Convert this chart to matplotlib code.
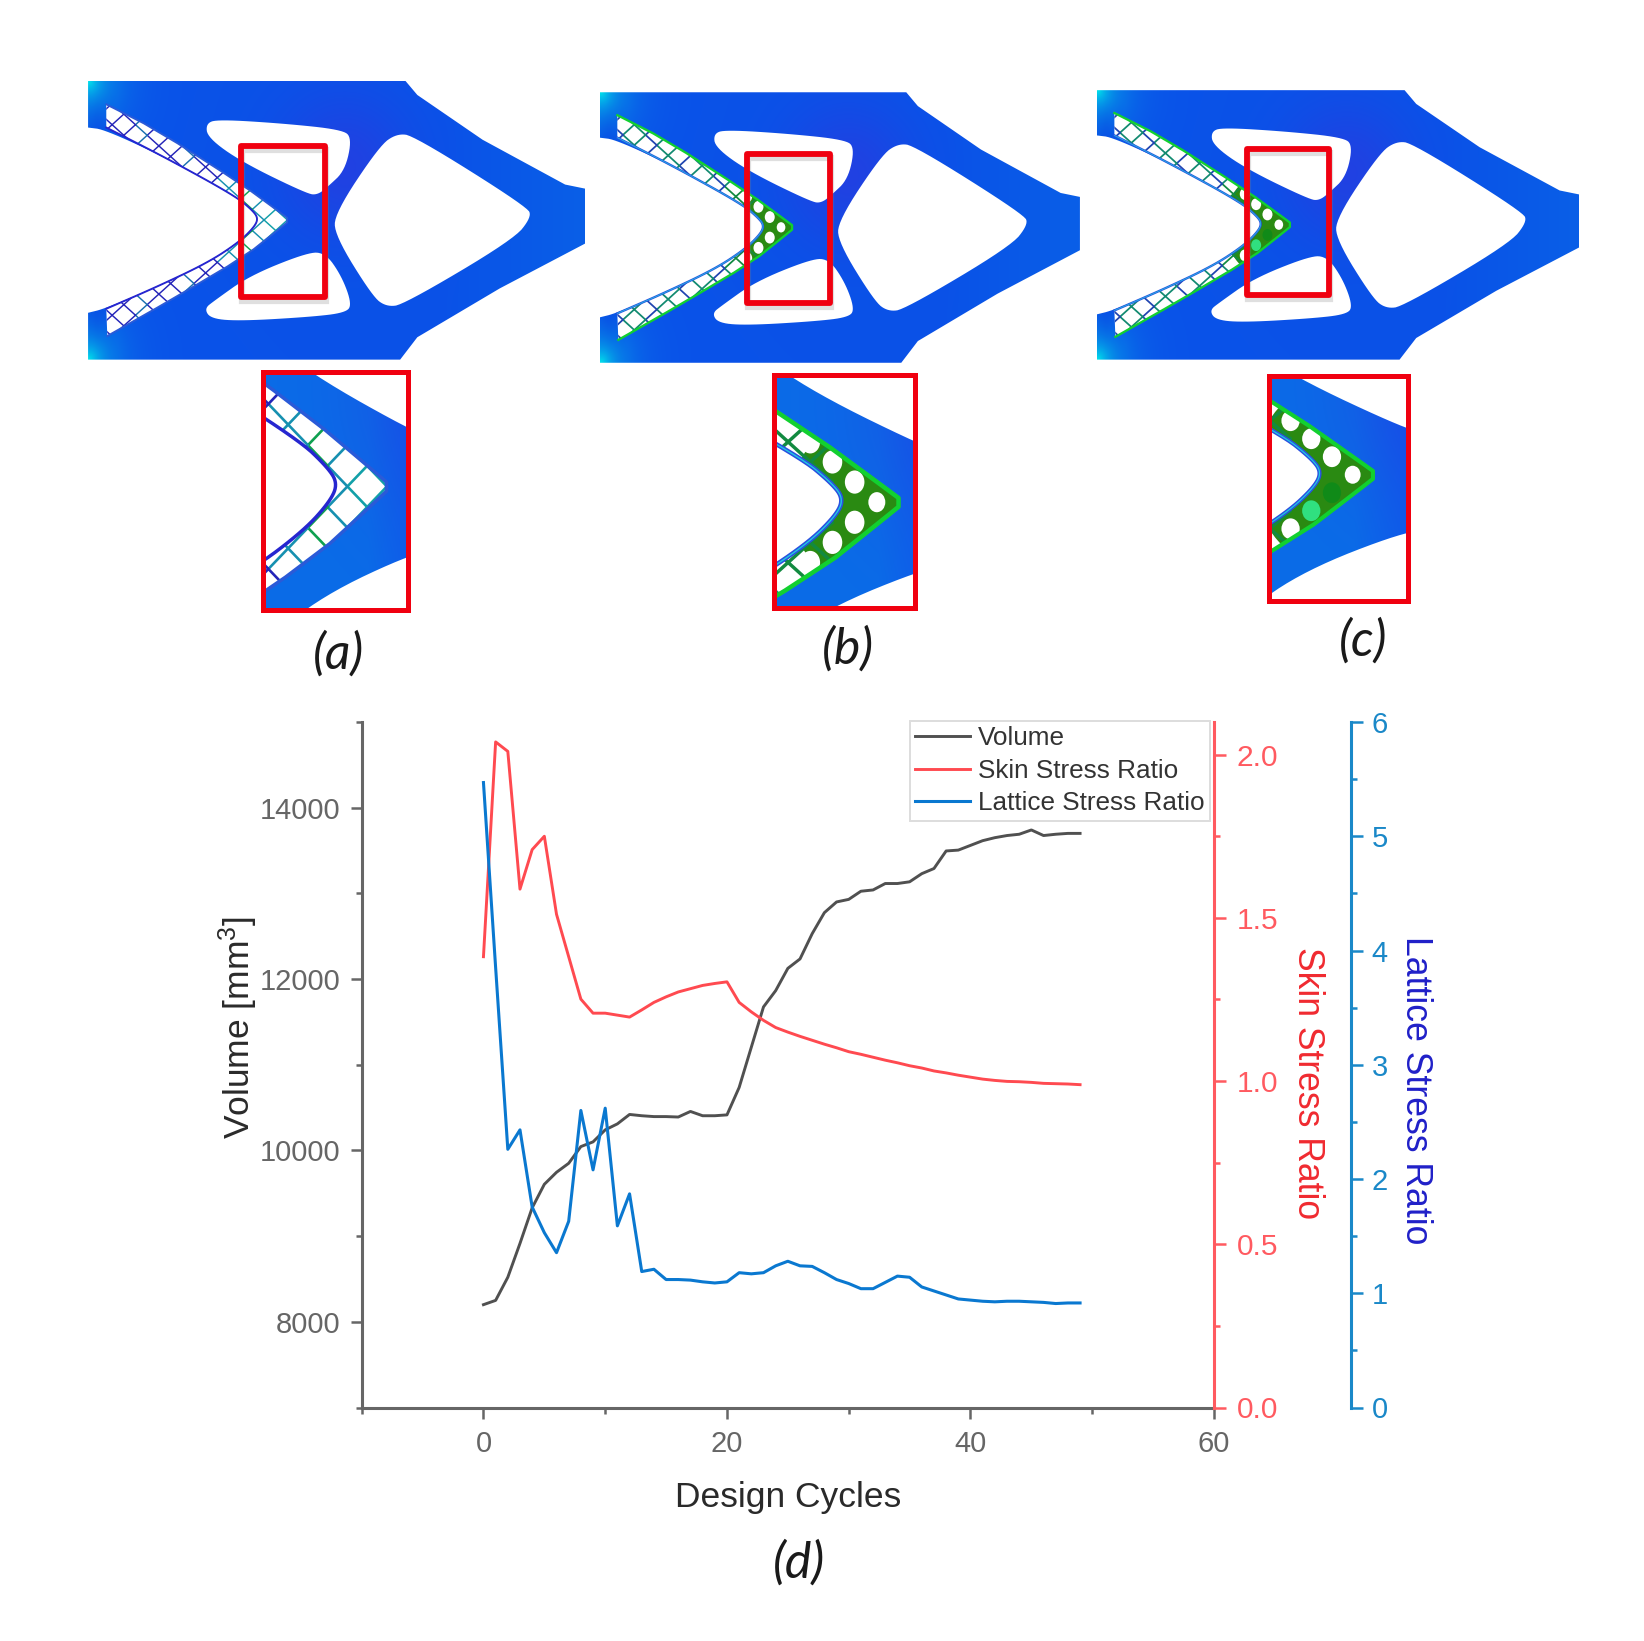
import numpy as np
import matplotlib
matplotlib.use("Agg")
import matplotlib.pyplot as plt
from matplotlib.path import Path
from matplotlib.patches import PathPatch, Rectangle, Ellipse
from matplotlib.collections import LineCollection
from matplotlib.transforms import Bbox
from matplotlib.ticker import MultipleLocator

plt.rcParams['font.family'] = ['Liberation Sans', 'DejaVu Sans']
plt.rcParams['mathtext.default'] = 'regular'

# ---------- chart data ----------
cycles = list(range(50))
volume = [8200, 8250, 8520, 8915, 9330, 9605, 9745, 9850, 10045, 10100,
          10240, 10310, 10420, 10405, 10395, 10395, 10390, 10455, 10405, 10405,
          10415, 10735, 11205, 11675, 11865, 12125, 12235, 12530, 12775, 12900,
          12930, 13025, 13040, 13115, 13115, 13135, 13230, 13290, 13495, 13505,
          13560, 13615, 13650, 13675, 13690, 13740, 13675, 13690, 13700, 13700]
skin_ratio = [1.381, 2.039, 2.010, 1.588, 1.709, 1.750, 1.511, 1.381, 1.251, 1.208,
              1.208, 1.202, 1.196, 1.218, 1.241, 1.258, 1.273, 1.283, 1.293, 1.299,
              1.304, 1.241, 1.212, 1.186, 1.164, 1.150, 1.137, 1.125, 1.113, 1.102,
              1.090, 1.082, 1.073, 1.064, 1.056, 1.047, 1.040, 1.031, 1.025, 1.018,
              1.012, 1.006, 1.002, 0.999, 0.998, 0.996, 0.993, 0.992, 0.991, 0.989]
lattice_ratio = [5.47, 3.85, 2.26, 2.43, 1.755, 1.53, 1.355, 1.63, 2.60, 2.08,
                 2.62, 1.59, 1.87, 1.19, 1.21, 1.12, 1.12, 1.115, 1.10, 1.09,
                 1.10, 1.18, 1.17, 1.18, 1.24, 1.28, 1.24, 1.235, 1.18, 1.12,
                 1.085, 1.04, 1.04, 1.095, 1.15, 1.14, 1.055, 1.02, 0.985, 0.95,
                 0.94, 0.93, 0.925, 0.93, 0.93, 0.925, 0.92, 0.91, 0.915, 0.915]
series_names = ['Volume', 'Skin Stress Ratio', 'Lattice Stress Ratio']
panel_labels = ['(a)', '(b)', '(c)', '(d)']


# ---------- beam outline (illustration) ----------
def smooth(points, n=3):
    p = np.asarray(points, float)
    for _ in range(n):
        q = np.roll(p, -1, axis=0)
        p = np.column_stack([0.75 * p + 0.25 * q, 0.25 * p + 0.75 * q]).reshape(-1, 2)
    return p


def smooth_open(points, n=3):
    p = np.asarray(points, float)
    for _ in range(n):
        mid = np.column_stack([0.75 * p[:-1] + 0.25 * p[1:], 0.25 * p[:-1] + 0.75 * p[1:]]).reshape(-1, 2)
        p = np.vstack([p[:1], mid, p[-1:]])
    return p


OUTER_FIXED = [(52, 165), (52, 50), (975, 50), (1010, 85), (1200, 195), (1440, 305), (1498, 315), (1498, 450),
               (1250, 560), (1010, 680), (960, 735), (52, 735), (52, 620)]
NOTCH = [(52, 620), (100, 610), (250, 557), (400, 497), (490, 447), (535, 410), (547, 388), (530, 368),
         (480, 333), (280, 240), (100, 170), (52, 165)]
HOLE_TOP = [(395, 155), (430, 145), (620, 155), (790, 170), (820, 190), (800, 270), (750, 310),
            (720, 330), (690, 328), (500, 250), (400, 190)]
HOLE_BOTTOM = [(390, 610), (420, 590), (520, 530), (680, 475), (740, 470), (790, 530), (820, 600),
               (800, 620), (700, 630), (500, 640), (410, 635)]
HOLE_BIG = [(770, 375), (900, 210), (950, 180), (1000, 185), (1330, 360), (1342, 385), (1290, 440),
            (970, 600), (920, 605), (880, 580), (770, 430)]
LAT_OUT = [(105, 108), (250, 170), (500, 305), (605, 370), (640, 392), (605, 416), (510, 480), (300, 585),
           (108, 677)]
LAT_IN = [(105, 610), (250, 557), (400, 497), (490, 447), (535, 410), (547, 388), (530, 368),
          (480, 333), (280, 240), (105, 165)]
TIP = np.array([632.0, 392.0])

OUTER = np.vstack([np.array(OUTER_FIXED, float), smooth_open(NOTCH, 3)[1:-1]])
LAT_OUT_S = smooth_open(LAT_OUT, 1)
LAT_IN_S = smooth_open(LAT_IN, 3)

W, H = 1644, 1641
k = 1644 / 1568
PANELS = [
    dict(rect=(84, 77, 558, 343), red=(230, 139, 310, 283), inset=(251, 355, 389, 582), label=(323, 624),
         src=(419, 248, 668, 548), mode='a', filled={}, r=0),
    dict(rect=(572, 88, 1030, 346), red=(712, 147, 792, 289), inset=(738, 358, 873, 580), label=(809, 619),
         src=(440, 228, 657, 529), mode='b', filled={(1, 1): '#10e030'}, r=105),
    dict(rect=(1046, 86, 1506, 343), red=(1189, 142, 1268, 281), inset=(1210, 359, 1343, 573), label=(1300, 612),
         src=(460, 250, 689, 574), mode='c',
         filled={(1, 1): '#30e070', (0, 1): '#108a18', (1, 2): '#109a20', (0, 2): '#30e080',
                 (2, 1): '#30e090', (3, 1): '#20c070', (2, 2): '#108a18'}, r=135),
]


def mapper(src, dst):
    sx = (dst[2] - dst[0]) / (src[2] - src[0])
    sy = (dst[3] - dst[1]) / (src[3] - src[1])
    fwd = lambda p: (np.asarray(p, float) - [src[0], src[1]]) * [sx, sy] + [dst[0], dst[1]]
    inv = lambda X, Y: ((X - dst[0]) / sx + src[0], (Y - dst[1]) / sy + src[1])
    return fwd, inv, sx, sy


def make_path(pts, box=None):
    pts = np.asarray(pts)
    path = Path(np.vstack([pts, pts[:1]]), closed=True)
    return path.clip_to_bbox(box, inside=True) if box is not None else path


def body_image(U, V, inset):
    base = np.array([10, 108, 232] if inset else [10, 82, 232], float) / 255
    img = np.ones(U.shape + (3,)) * base
    purple = np.exp(-(((U - 800) / 190) ** 2 + ((V - 260) / 170) ** 2))[..., None] * 0.75
    img = img * (1 - purple) + np.array([40, 60, 224]) / 255 * purple
    right = np.clip((U - 1100) / 400, 0, 1)[..., None] * 0.5
    img = img * (1 - right) + np.array([8, 108, 232]) / 255 * right
    if inset:
        blue = np.clip((U - 600) / 140, 0, 1)[..., None] * 0.7
        img = img * (1 - blue) + np.array([20, 72, 236]) / 255 * blue
    c = np.maximum(np.exp(-np.hypot(U - 52, V - 50) / 55), np.exp(-np.hypot(U - 52, V - 735) / 55))[..., None]
    dark = np.clip(1 - np.abs(U - 75) / 60, 0, 1)[..., None] * 0.55
    img = img * (1 - dark) + np.array([10, 50, 225]) / 255 * dark
    return img * (1 - c) + np.array([0, 225, 235]) / 255 * c


def line_color(mode, dist, i, j):
    if mode == 'a':
        if dist < 80:
            return '#12a0a8'
        if dist < 210:
            return '#0fa050' if (i + j) % 3 == 0 else '#1690b0'
        return '#2424b8' if (i + j) % 4 else '#1a70b0'
    if dist < 220:
        return '#128a40'
    return '#128a70' if (i + j) % 3 else '#2044b0'


def draw_part(ax, fwd, inv, sx, sy, panel, inset=False, box=None):
    mode = panel['mode']
    scale = (abs(sx) * 2.904 + abs(sy) * 2.45) / 2
    outer_px = fwd(OUTER)
    x0, y0 = outer_px.min(0)
    x1, y1 = outer_px.max(0)
    if box is not None:
        x0, y0, x1, y1 = box.x0, box.y0, box.x1, box.y1
    X, Y = np.meshgrid(np.linspace(x0, x1, 220), np.linspace(y0, y1, 220))
    U, V = inv(X, Y)
    clip = make_path(outer_px, box)
    im = ax.imshow(body_image(U, V, inset), extent=(x0, x1, y1, y0), aspect='auto',
                   interpolation='bilinear', zorder=1)
    im.set_clip_path(clip, ax.transData)
    for hole in (HOLE_TOP, HOLE_BOTTOM, HOLE_BIG):
        ax.add_patch(PathPatch(make_path(fwd(smooth(hole)), box), fc='white', ec='none', zorder=2))

    # white lattice strip
    strip = make_path(fwd(np.vstack([LAT_OUT_S, LAT_IN_S])), box)
    ax.add_patch(PathPatch(strip, fc='white', ec='none', zorder=3))

    a = np.array([-34.0, -26.0])
    b = np.array([-34.0, 26.0])
    lw = 1.05 * (1.0 if mode == 'a' else 1.25) * scale

    # solid region around the tip in (b) and (c)
    if panel['r']:
        centre = TIP + 0.9 * (a + b)
        blob = Ellipse(fwd([centre])[0], 2 * panel['r'] * sx, 2 * panel['r'] * sy,
                       fc='#2a8a12', ec='none', zorder=3.1)
        ax.add_patch(blob)
        blob.set_clip_path(strip, ax.transData)
        for i in range(0, 5):
            for j in range(0, 5):
                cen = TIP + (i + 0.5) * a + (j + 0.5) * b
                color = panel['filled'].get((i, j), 'white')
                if np.linalg.norm(cen - centre) > panel['r'] + 15:
                    continue
                rad = 15.0 if (i, j) != (0, 0) else 13.0
                cir = Ellipse(fwd([cen])[0], 2 * rad * sx, 2 * rad * sy, fc=color, ec='none', zorder=3.2)
                ax.add_patch(cir)
                cir.set_clip_path(strip, ax.transData)

    # lattice struts
    segs, cols = [], []
    for i in range(-4, 26):
        for j in range(-4, 26):
            p = TIP + i * a + j * b
            for q in (p + a, p + b):
                mid = (p + q) / 2
                dist = np.linalg.norm(mid - TIP)
                if panel['r'] and dist < panel['r'] * 1.1:
                    continue
                segs.append(fwd([p, q]))
                cols.append(line_color(mode, dist, i, j))
    lc = LineCollection(segs, colors=cols, linewidths=lw, zorder=3.5, capstyle='round')
    ax.add_collection(lc)
    lc.set_clip_path(strip, ax.transData)

    # strip walls
    top_col = '#2a5ad8' if mode == 'a' else '#12d030'
    in_col = '#2626d0' if mode == 'a' else '#2a50e0'
    for line, col, width in ((LAT_OUT_S, top_col, lw * 1.3), (LAT_IN_S, in_col, lw * 1.3),
                             (LAT_IN_S, '#20c8e0' if mode != 'a' else in_col, lw * 0.4)):
        pts = fwd(line)
        l, = ax.plot(pts[:, 0], pts[:, 1], color=col, lw=width, zorder=3.8, solid_joinstyle='round')
        if box is not None:
            l.set_clip_path(Rectangle((box.x0, box.y0), box.width, box.height, transform=ax.transData))


fig = plt.figure(figsize=(W / 100, H / 100), dpi=100)
bg = fig.add_axes([0, 0, 1, 1], zorder=0)

for p in PANELS:
    rect = [v * k for v in p['rect']]
    fwd, inv, sx, sy = mapper((52, 50, 1498, 735), rect)
    draw_part(bg, fwd, inv, sx, sy, p)
    # red marker box with its soft shadow
    rx0, ry0, rx1, ry1 = [v * k for v in p['red']]
    bg.add_patch(Rectangle((rx0 + 1, ry0 + 4), rx1 - rx0, ry1 - ry0, fc='none', ec='#808080',
                           alpha=0.25, lw=4.5, zorder=4))
    bg.add_patch(Rectangle((rx0, ry0), rx1 - rx0, ry1 - ry0, fc='none', ec='#f00010', lw=4.2,
                           joinstyle='round', zorder=5))
    # enlarged view of the marked region
    ix0, iy0, ix1, iy1 = [v * k for v in p['inset']]
    ifwd, iinv, isx, isy = mapper(p['src'], (ix0, iy0, ix1, iy1))
    box = Bbox.from_extents(ix0, iy0, ix1, iy1)
    draw_part(bg, ifwd, iinv, isx, isy, p, inset=True, box=box)
    bg.add_patch(Rectangle((ix0, iy0), ix1 - ix0, iy1 - iy0, fc='none', ec='#f00010', lw=3.6, zorder=5))

labels_xy = [p['label'] for p in PANELS] + [(762, 1491)]
for s, (x, y) in zip(panel_labels, labels_xy):
    bg.text(x * k, y * k, s, fontsize=36, style='italic', family='Lato', color='#1a1a1a',
            ha='center', va='center', zorder=6)

bg.set_xlim(0, W)
bg.set_ylim(H, 0)
bg.axis('off')

# ---------- chart ----------
left, right, top, bottom = 361.7, 1214, 722, 1407.5
ax = fig.add_axes([left / W, 1 - bottom / H, (right - left) / W, (bottom - top) / H], zorder=2)
ax.patch.set_alpha(0)
ax2 = ax.twinx()
ax3 = ax.twinx()
ax2.set_zorder(3)
ax3.set_zorder(4)
for a_ in (ax2, ax3):
    a_.patch.set_alpha(0)

GRAY = '#666666'
RED = '#ff5a60'
BLUE = '#1a88c8'
l1, = ax.plot(cycles, volume, color='#505050', lw=2.1, label=series_names[0])
l2, = ax2.plot(cycles, skin_ratio, color='#ff4a50', lw=2.1, label=series_names[1])
l3, = ax3.plot(cycles, lattice_ratio, color='#0a78d0', lw=2.2, label=series_names[2])

ax.set_xlim(-10, 60)
ax.set_ylim(7000, 15000)
ax2.set_ylim(0, 2.1)
ax3.set_ylim(0, 6)

for s in ('top', 'right'):
    ax.spines[s].set_visible(False)
for s in ('top', 'left', 'bottom'):
    ax2.spines[s].set_visible(False)
    ax3.spines[s].set_visible(False)
for s in ('left', 'bottom'):
    ax.spines[s].set_color(GRAY)
    ax.spines[s].set_linewidth(2.2)
ax2.spines['right'].set_color(RED)
ax2.spines['right'].set_linewidth(2.2)
ax3.spines['right'].set_color(BLUE)
ax3.spines['right'].set_linewidth(2.2)
ax3.spines['right'].set_position(('axes', (1351 - left) / (right - left)))

ax.xaxis.set_major_locator(MultipleLocator(20))
ax.xaxis.set_minor_locator(MultipleLocator(10))
ax.yaxis.set_major_locator(MultipleLocator(2000))
ax.yaxis.set_minor_locator(MultipleLocator(1000))
ax2.yaxis.set_major_locator(MultipleLocator(0.5))
ax2.yaxis.set_minor_locator(MultipleLocator(0.25))
ax3.yaxis.set_major_locator(MultipleLocator(1))
ax3.yaxis.set_minor_locator(MultipleLocator(0.5))

ax.tick_params(axis='y', which='major', length=8, width=1.8, color=GRAY, labelcolor=GRAY, labelsize=21, pad=7)
ax.tick_params(axis='x', which='major', length=8, width=1.8, color=GRAY, labelcolor=GRAY, labelsize=21, pad=8)
ax.tick_params(axis='both', which='minor', length=4, width=1.8, color=GRAY)
ax2.tick_params(axis='y', which='major', length=8.5, width=1.8, color=RED, labelcolor=RED, labelsize=21.5, pad=8)
ax2.tick_params(axis='y', which='minor', length=4.5, width=1.8, color=RED)
ax3.tick_params(axis='y', which='major', length=8.5, width=1.8, color=BLUE, labelcolor=BLUE, labelsize=21, pad=6.5)
ax3.tick_params(axis='y', which='minor', length=4.5, width=1.8, color=BLUE)

fig.text(238 / W, 1 - 1028 / H, 'Volume [mm$^{3}$]', rotation=90, fontsize=25.5, color='#2a2a2a',
         ha='center', va='center')
fig.text(788 / W, 1 - 1498 / H, 'Design Cycles', fontsize=25.5, color='#2a2a2a', ha='center', va='center')
fig.text(1307 / W, 1 - 1083 / H, series_names[1], rotation=270, fontsize=25.6, color='#f02a30',
         ha='center', va='center')
fig.text(1415 / W, 1 - 1090 / H, series_names[2], rotation=270, fontsize=25.7, color='#2020c8',
         ha='center', va='center')

leg = ax3.legend(handles=[l1, l2, l3], loc='upper left', bbox_to_anchor=(910 / W, 1 - 721 / H),
                 bbox_transform=fig.transFigure, borderaxespad=0, fontsize=18.8, frameon=True,
                 fancybox=False, edgecolor='#dddddd', framealpha=1, handlelength=2.1,
                 handletextpad=0.3, labelspacing=0.33, borderpad=0.2, labelcolor='#333333')
leg.get_frame().set_linewidth(1.4)

fig.savefig('out.png', dpi=100, facecolor='white')
